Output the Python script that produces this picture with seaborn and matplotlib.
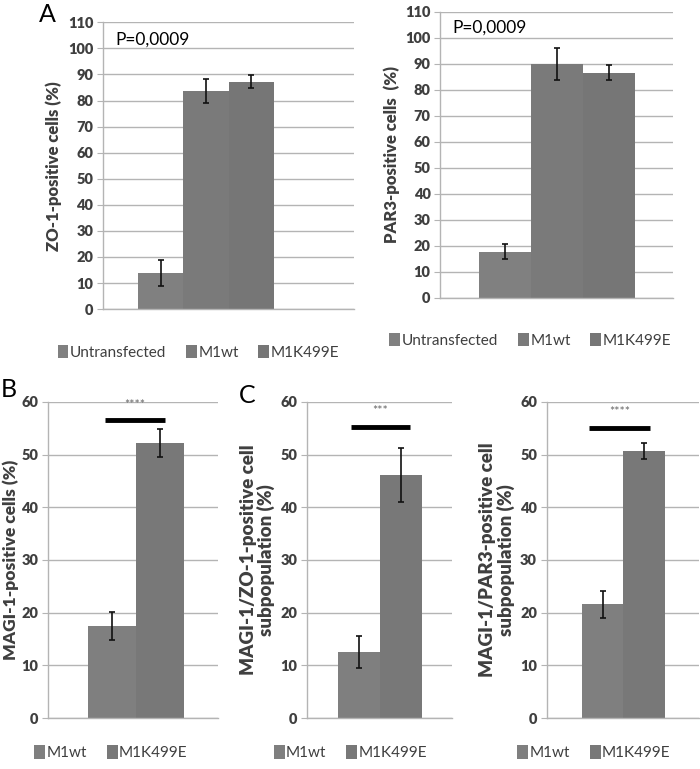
import numpy as np
import pandas as pd
import matplotlib
matplotlib.use("Agg")
import matplotlib.pyplot as plt
from matplotlib import font_manager as fm
import seaborn as sns

# panel A
groups_a = ["Untransfected", "M1wt", "M1K499E"]
zo1_vals = [13.8, 83.6, 87.2]
zo1_err = [4.9, 4.5, 2.4]
par3_vals = [17.8, 89.9, 86.7]
par3_err = [3.0, 6.2, 2.7]

# panels B and C
groups_bc = ["M1wt", "M1K499E"]
magi_vals = [17.5, 52.2]
magi_err = [2.7, 2.7]
magi_zo1_vals = [12.5, 46.1]
magi_zo1_err = [3.1, 5.1]
magi_par3_vals = [21.6, 50.7]
magi_par3_err = [2.6, 1.6]

sns.set_style("white")
plt.rcParams['font.family'] = 'Lato'

# heavier face for the axis texts
bold_path = fm.findfont(fm.FontProperties(family="Lato", weight="heavy"))

TXT = "#3f3f3f"
GRID = "#b4b4b4"
colors_a = {"Untransfected": "#808080", "M1wt": "#7a7a7a", "M1K499E": "#767676"}
colors_bc = {"M1wt": "#7f7f7f", "M1K499E": "#787878"}

fig = plt.figure(figsize=(7, 7.69), dpi=100)


def panel(rect, groups, vals, errs, palette, ylabel, ymax, step, xlim, leg_y,
          leg_x=0.5, lab_size=11, labelpad=4):
    ax = fig.add_axes(rect)
    df = pd.DataFrame({"panel": "x", "group": groups, "value": vals})
    sns.barplot(data=df, x="panel", y="value", hue="group", palette=palette,
                errorbar=None, width=0.8, saturation=1, ax=ax, linewidth=0)
    bars = [p for p in ax.patches if p.get_height() > 0 and p.get_width() > 0]
    bars = sorted(bars, key=lambda p: p.get_x())[:len(vals)]
    centers = [p.get_x() + p.get_width() / 2 for p in bars]
    ax.errorbar(centers, vals, yerr=errs, fmt="none", ecolor="#111111",
                elinewidth=1.2, capsize=2.5, capthick=1.2, zorder=5)
    ax.set_ylim(0, ymax)
    ticks = np.arange(0, ymax + 1, step)
    ax.set_yticks(ticks, [str(t) for t in ticks])
    ax.set_xlim(*xlim)
    ax.set_xticks([])
    ax.set_xlabel("")
    ax.set_ylabel(ylabel, color=TXT, labelpad=labelpad, linespacing=1.0,
                  fontproperties=fm.FontProperties(fname=bold_path, size=lab_size))
    ax.yaxis.grid(True, color=GRID, lw=1)
    ax.set_axisbelow(True)
    for s in ["top", "right"]:
        ax.spines[s].set_visible(False)
    for s in ["left", "bottom"]:
        ax.spines[s].set_color(GRID)
        ax.spines[s].set_linewidth(1)
    ax.tick_params(axis="y", left=True, length=4, color=GRID,
                   labelcolor=TXT, pad=3)
    for t in ax.get_yticklabels():
        t.set_fontproperties(fm.FontProperties(fname=bold_path, size=10.5))
    sns.move_legend(ax, "center", bbox_to_anchor=(leg_x, leg_y), ncol=len(groups),
                    frameon=False, title=None, fontsize=11, handlelength=0.7,
                    handleheight=1.0, handletextpad=0.1, columnspacing=1.3,
                    labelcolor=TXT)
    return ax


ax1 = panel([0.147, 0.598, 0.359, 0.373], groups_a, zo1_vals, zo1_err, colors_a,
            "ZO-1-positive cells (%)", 110, 10, (-0.606, 0.870), -0.15, 0.38,
            lab_size=12)
ax1.text(0.048, 0.94, "P=0,0009", transform=ax1.transAxes, fontsize=12.5,
         va="center", ha="left", color="black")

ax2 = panel([0.629, 0.6125, 0.333, 0.372], groups_a, par3_vals, par3_err, colors_a,
            "PAR3-positive cells  (%)", 110, 10, (-0.6, 0.595), -0.147, 0.386,
            lab_size=12)
ax2.text(0.05, 0.944, "P=0,0009", transform=ax2.transAxes, fontsize=12.5,
         va="center", ha="left", color="black")

ax3 = panel([0.0686, 0.0663, 0.243, 0.411], groups_bc, magi_vals, magi_err, colors_bc,
            "MAGI-1-positive cells (%)", 60, 10, (-0.733, 0.683), -0.11, 0.37,
            lab_size=12.5, labelpad=2)
ax4 = panel([0.4386, 0.0663, 0.207, 0.411], groups_bc, magi_zo1_vals, magi_zo1_err,
            colors_bc, "MAGI-1/ZO-1-positive cell\nsubpopulation (%)", 60, 10,
            (-0.695, 0.686), -0.11, 0.30, lab_size=13.5)
ax5 = panel([0.781, 0.0663, 0.218, 0.411], groups_bc, magi_par3_vals, magi_par3_err,
            colors_bc, "MAGI-1/PAR3-positive cell\nsubpopulation (%)", 60, 10,
            (-0.733, 0.724), -0.11, 0.31, lab_size=13.5)

# significance bars
for ax, (x0, x1), y, stars in [(ax3, (-0.26, 0.24), 56.5, "****"),
                               (ax4, (-0.28, 0.29), 55.2, "***"),
                               (ax5, (-0.33, 0.25), 55.0, "****")]:
    ax.plot([x0, x1], [y, y], color="black", lw=3.5, solid_capstyle="butt")
    ax.text((x0 + x1) / 2, y + 3.0, stars, ha="center", va="center",
            fontsize=9, color="#666666")

fig.text(0.067, 0.981, "A", fontsize=18, ha="center", va="center", color="black")
fig.text(0.012, 0.493, "B", fontsize=18, ha="center", va="center", color="black")
fig.text(0.353, 0.486, "C", fontsize=18, ha="center", va="center", color="black")

fig.savefig("out.png", dpi=100)
